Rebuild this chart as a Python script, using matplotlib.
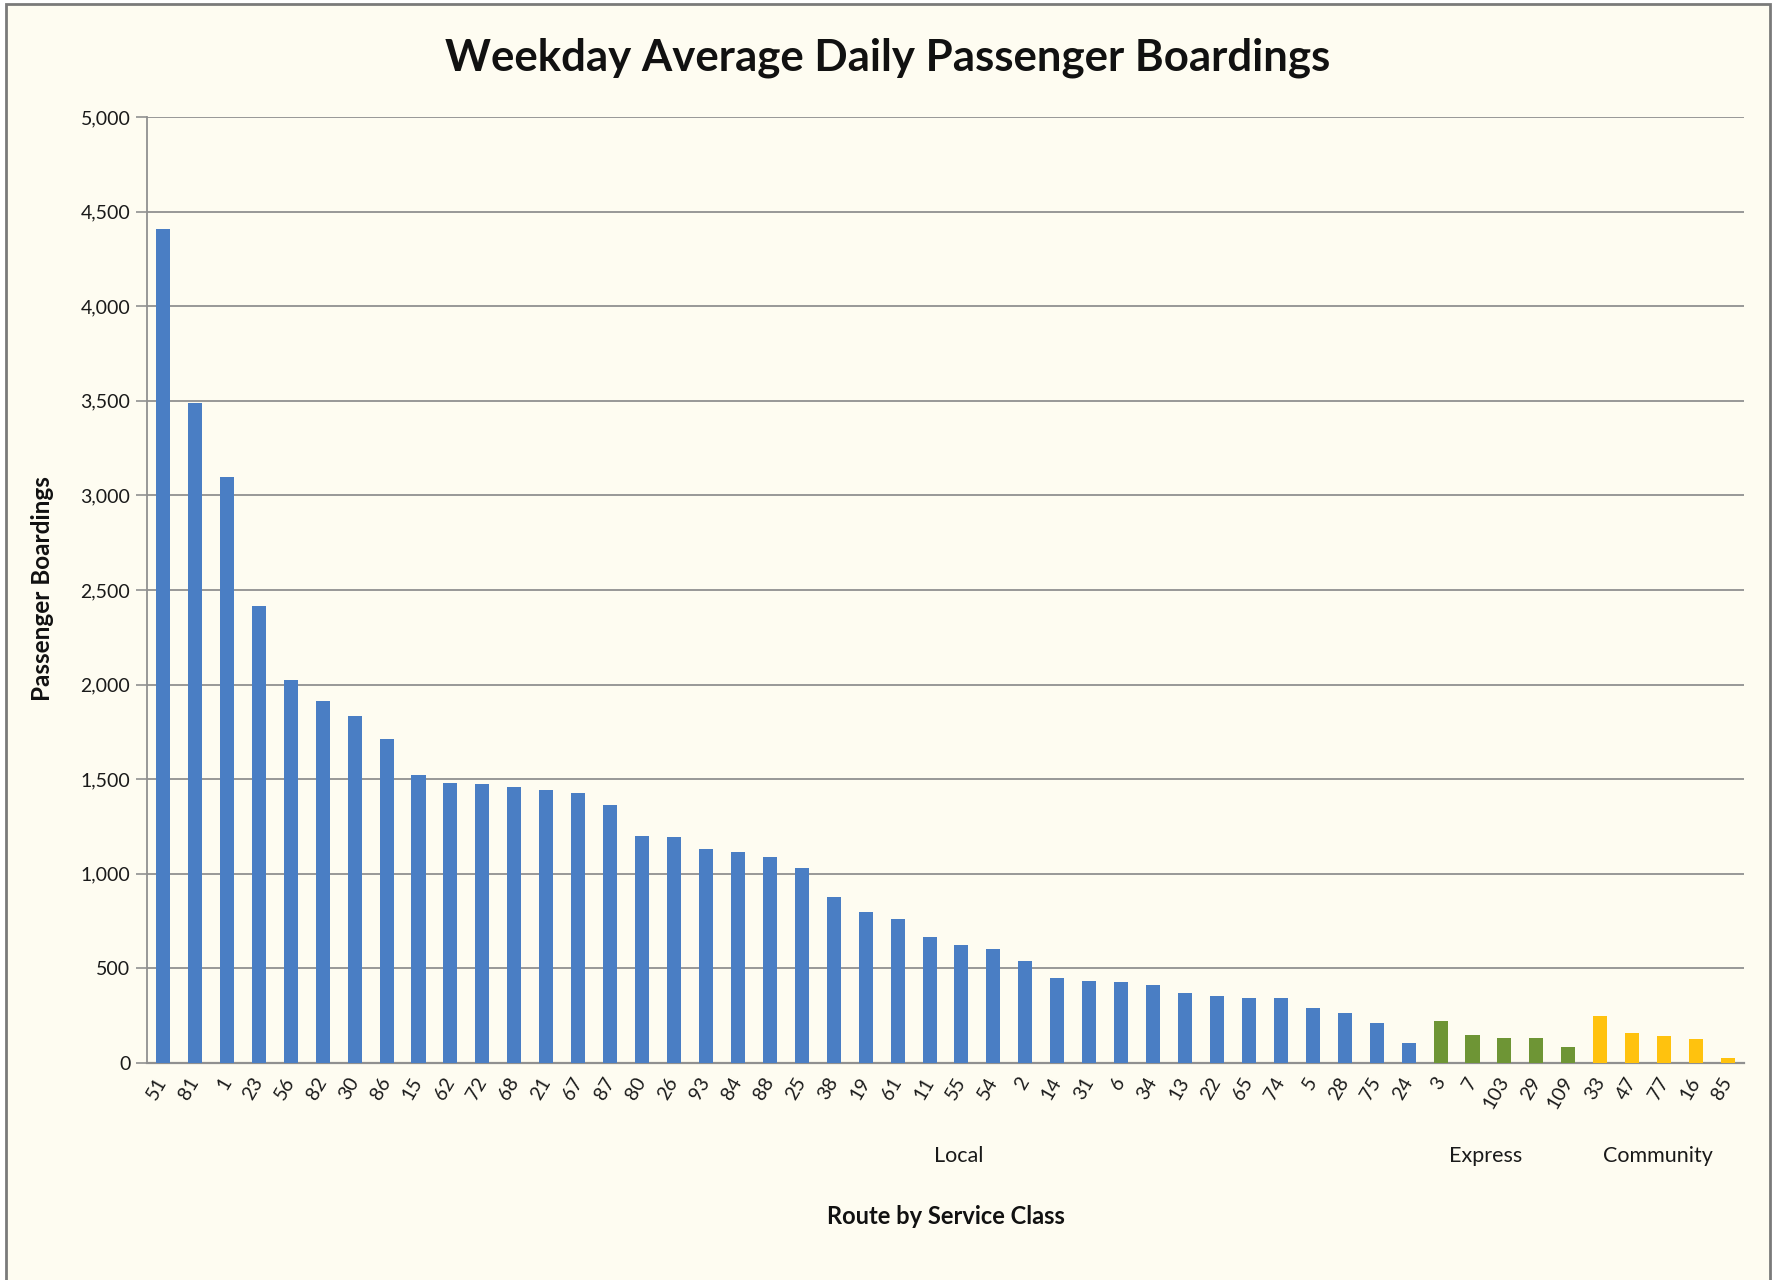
import matplotlib
matplotlib.use("Agg")
import matplotlib.pyplot as plt
from matplotlib.patches import Rectangle
from matplotlib.ticker import FuncFormatter, MultipleLocator

# ---- data ----
local_routes = ["51", "81", "1", "23", "56", "82", "30", "86", "15", "62", "72", "68", "21", "67",
                "87", "80", "26", "93", "84", "88", "25", "38", "19", "61", "11", "55", "54", "2",
                "14", "31", "6", "34", "13", "22", "65", "74", "5", "28", "75", "24"]
local_values = [4410, 3490, 3095, 2415, 2022, 1915, 1835, 1712, 1522, 1478, 1476, 1458, 1441, 1427,
                1364, 1200, 1196, 1133, 1114, 1091, 1032, 875, 796, 762, 667, 626, 603, 537,
                451, 435, 427, 412, 372, 356, 345, 344, 291, 264, 213, 105]
express_routes = ["3", "7", "103", "29", "109"]
express_values = [221, 149, 133, 133, 85]
community_routes = ["33", "47", "77", "16", "85"]
community_values = [250, 161, 145, 127, 25]

groups = ["Local", "Express", "Community"]
group_colors = ["#4A7EC4", "#6E9535", "#FFC20E"]

title = "Weekday Average Daily Passenger Boardings"
ylabel = "Passenger Boardings"
xlabel = "Route by Service Class"

# ---- figure ----
FONT = ["Lato", "DejaVu Sans"]
plt.rcParams["font.family"] = FONT
BG = "#FEFCF1"
GRID = "#909090"

fig = plt.figure(figsize=(17.75, 12.8), dpi=100)
fig.patch.set_facecolor("white")
# page frame
frame = Rectangle((6 / 1775, -0.01), (1770 - 6) / 1775, 1 - 4 / 1280 + 0.01,
                  transform=fig.transFigure, facecolor=BG, edgecolor="#7A7A7A",
                  linewidth=2.0, zorder=-5)
fig.patches.append(frame)

ax = fig.add_axes([147 / 1775, 1 - 1063 / 1280, (1744 - 147) / 1775, (1063 - 117) / 1280])
ax.set_zorder(5)
ax.patch.set_visible(False)

route_lists = [local_routes, express_routes, community_routes]
value_lists = [local_values, express_values, community_values]

labels = []
start = 0
for routes, vals, col in zip(route_lists, value_lists, group_colors):
    xs = list(range(start, start + len(routes)))
    ax.bar(xs, vals, width=0.44, color=col, zorder=3)
    labels += routes
    start += len(routes)

n = len(labels)
ax.set_xlim(-0.5, n - 0.5)
ax.set_ylim(0, 5000)
ax.yaxis.set_major_locator(MultipleLocator(500))
ax.yaxis.set_major_formatter(FuncFormatter(lambda v, p: f"{int(v):,}"))
ax.grid(axis="y", color=GRID, linewidth=1.3, zorder=1)
ax.set_axisbelow(True)

for s in ["top", "right"]:
    ax.spines[s].set_visible(False)
ax.spines["left"].set_color(GRID)
ax.spines["left"].set_linewidth(1.3)
ax.spines["bottom"].set_color(GRID)
ax.spines["bottom"].set_linewidth(1.6)

ax.tick_params(axis="y", length=8, width=1.2, color=GRID, pad=4, labelsize=14, labelcolor="#1a1a1a")
ax.tick_params(axis="x", length=0, pad=11, labelsize=14, labelcolor="#1a1a1a")
ax.set_xticks(range(n))
ax.set_xticklabels(labels, rotation=60, ha="right", va="center", rotation_mode="anchor")

# group labels under categories
group_x = [24.9, 41.4, 46.8]
for g, gx in zip(groups, group_x):
    ax.text(gx, -0.098, g, transform=ax.get_xaxis_transform(), ha="center", va="center",
            fontsize=15.5, color="#1a1a1a")

ax.text(0.5, -0.162, xlabel, transform=ax.transAxes, ha="center", va="center",
        fontsize=17, fontweight="bold", color="#111111")
fig.text(43 / 1775, 1 - 589 / 1280, ylabel, rotation=90, ha="center", va="center",
         fontsize=17.5, fontweight="bold", color="#111111")
fig.text(0.5, 1 - 58 / 1280, title, ha="center", va="center", fontsize=31.5,
         fontweight="bold", color="#111111")

fig.savefig("out.png", dpi=100, facecolor=fig.get_facecolor())
